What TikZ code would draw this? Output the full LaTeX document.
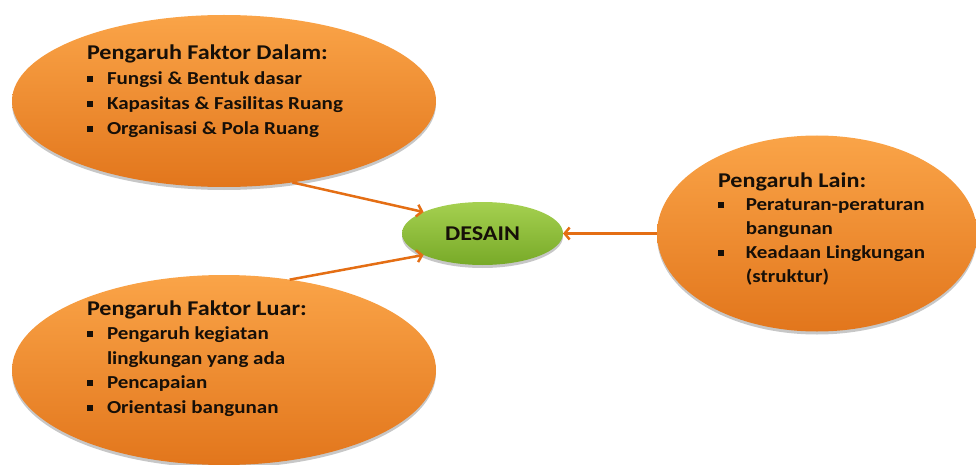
\documentclass[tikz,border=0pt]{standalone}
\usepackage{fontspec}
\setmainfont{Carlito}
\newfontfamily\widefont[FakeStretch=1.15]{Carlito}
\usetikzlibrary{shapes.geometric,arrows.meta,shadows}
\definecolor{orTop}{RGB}{250,164,72}
\definecolor{orBot}{RGB}{226,118,28}
\definecolor{grTop}{RGB}{165,208,80}
\definecolor{grBot}{RGB}{120,170,40}
\definecolor{arrowor}{RGB}{228,110,20}
\definecolor{inktext}{RGB}{22,15,8}
\newcommand\bul[1][20pt]{\makebox[#1][l]{\raisebox{2.5pt}{\rule{6pt}{6pt}}}}
\newcommand\contl[1][20pt]{\hspace*{#1}}
\newcommand\ttl[1]{\hbox{\fontsize{21}{25}\selectfont #1}}
\tikzset{
  ball/.style={ellipse, inner sep=0pt, outer sep=0pt, draw=none,
    drop shadow={shadow xshift=0pt, shadow yshift=-3pt, opacity=0.22, fill=black}},
  orangeball/.style={ball, top color=orTop, bottom color=orBot},
  greenball/.style={ball, top color=grTop, bottom color=grBot},
  blocktext/.style={inner sep=0pt, outer sep=0pt, text=inktext,
    font=\widefont\fontsize{18.3}{25}\selectfont\bfseries},
  conn/.style={draw=arrowor, line width=2.5pt,
    -{Straight Barb[length=5pt,width=12pt]}},
}
\begin{document}
\begin{tikzpicture}[x=1pt,y=-1pt]
\useasboundingbox (0,0) rectangle (976,465);
\node[orangeball, minimum width=424pt, minimum height=172pt] (tl) at (224,101) {};
\node[orangeball, minimum width=424pt, minimum height=190pt] (bl) at (224,370) {};
\node[orangeball, minimum width=320pt, minimum height=196pt] (rt) at (817,233.5) {};
\node[greenball, minimum width=161pt, minimum height=63pt, text=inktext,
  font=\widefont\fontsize{21}{26}\selectfont\bfseries] (ds) at (482.5,233.5) {DESAIN};

\node[blocktext, anchor=base west] (tlt) at (87,60) {\vtop{\baselineskip=25pt\lineskiplimit=-100pt
  \ttl{Pengaruh Faktor Dalam:}
  \hbox{\bul Fungsi \& Bentuk dasar}
  \hbox{\bul Kapasitas \& Fasilitas Ruang}
  \hbox{\bul Organisasi \& Pola Ruang}}};
\node[blocktext, anchor=base west] (blt) at (87,315) {\vtop{\baselineskip=24.6pt\lineskiplimit=-100pt
  \ttl{Pengaruh Faktor Luar:}
  \hbox{\bul Pengaruh kegiatan}
  \hbox{\contl lingkungan yang ada}
  \hbox{\bul Pencapaian}
  \hbox{\bul Orientasi bangunan}}};
\node[blocktext, anchor=base west] (rtt) at (718,187) {\vtop{\baselineskip=23.8pt\lineskiplimit=-100pt
  \ttl{Pengaruh Lain:}
  \hbox{\bul[23pt] Peraturan-peraturan}
  \hbox{\contl[23pt] bangunan}
  \hbox{\bul[23pt] Keadaan Lingkungan}
  \hbox{\contl[23pt] (struktur)}}};

\draw[conn] (tl.-50) -- (ds.160);
\draw[conn] (bl.54) -- (ds.200);
\draw[conn] (rt.west) -- (ds.east);
\end{tikzpicture}
\end{document}
